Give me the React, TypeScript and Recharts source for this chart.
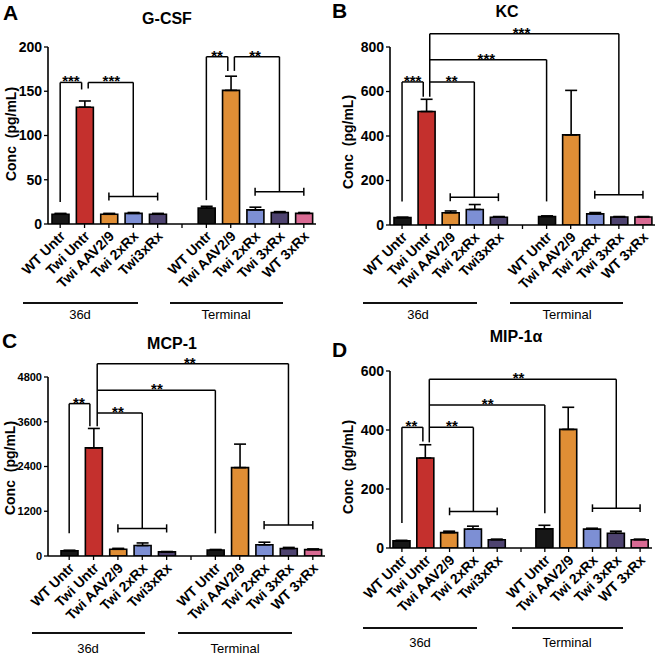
import React from 'react';
import { BarChart, Bar, XAxis, YAxis, Cell, ErrorBar, ReferenceLine, ReferenceDot } from 'recharts';

const FONT = '"Liberation Sans", Arial, Helvetica, sans-serif';

// categories along the x axis, slot 5 is the empty gap between 36d and Terminal
const categories = ['WT Untr', 'Twi Untr', 'Twi AAV2/9', 'Twi 2xRx', 'Twi3xRx', '', 'WT Untr', 'Twi AAV2/9', 'Twi 2xRx', 'Twi 3xRx', 'WT 3xRx'];
const tickSlots = [0.5, 1.5, 2.5, 3.5, 4.5, 5.5, 6.5, 7.5, 8.5, 9.5, 10.5];
const barSlots = [0.5, 1.5, 2.5, 3.5, 4.5, 6.5, 7.5, 8.5, 9.5, 10.5];
const barColors = ['#171717', '#c4302d', '#e08e35', '#7d8fd4', '#4e4370', '#171717', '#e08e35', '#7d8fd4', '#4e4370', '#d96a93'];
const groupLabels = ['36d', 'Terminal'];

// G-CSF
const gcsfValues = [11, 132, 11, 12, 11, 18, 151, 16, 13, 12];
const gcsfErrors = [1, 7, 1, 1, 1, 2, 16, 3, 1, 1];
const gcsfTicks = [0, 50, 100, 150, 200];
const gcsfBrackets = [
  [[0.5, 25], [0.5, 160], [1.38, 160], [1.38, 152]],
  [[1.65, 153], [1.65, 160], [3.5, 160], [3.5, 31]],
  [[6.5, 27], [6.5, 189], [7.38, 189], [7.38, 173]],
  [[7.65, 173], [7.65, 189], [9.5, 189], [9.5, 36.5]],
];
const gcsfSpans = [[2.5, 4.5, 31], [8.5, 10.5, 36.5]];
const gcsfStars: [number, number, string][] = [[0.94, 160, '***'], [2.6, 160, '***'], [6.94, 189, '**'], [8.5, 189, '**']];

// KC
const kcValues = [33, 510, 55, 70, 35, 38, 405, 50, 36, 36];
const kcErrors = [2, 55, 8, 22, 3, 3, 200, 6, 2, 2];
const kcTicks = [0, 200, 400, 600, 800];
const kcBrackets = [
  [[0.5, 106], [0.5, 643], [1.38, 643], [1.38, 576]],
  [[1.65, 576], [1.65, 860]],
  [[1.65, 643], [3.5, 643], [3.5, 125]],
  [[1.65, 743], [6.5, 743], [6.5, 106]],
  [[1.65, 860], [9.5, 860], [9.5, 136]],
];
const kcSpans = [[2.5, 4.5, 125], [8.5, 10.5, 136]];
const kcStars: [number, number, string][] = [[0.94, 643, '***'], [2.56, 643, '**'], [4.0, 743, '***'], [5.46, 860, '***']];

// MCP-1
const mcpValues = [140, 2900, 180, 280, 110, 160, 2370, 300, 200, 170];
const mcpErrors = [15, 520, 25, 70, 10, 15, 630, 70, 30, 20];
const mcpTicks = [0, 1200, 2400, 3600, 4800];
const mcpBrackets = [
  [[0.5, 607], [0.5, 4086], [1.35, 4086], [1.35, 3480]],
  [[1.65, 3480], [1.65, 5157]],
  [[1.65, 3836], [3.5, 3836], [3.5, 740]],
  [[1.65, 4443], [6.5, 4443], [6.5, 607]],
  [[1.65, 5157], [9.5, 5157], [9.5, 830]],
];
const mcpSpans = [[2.5, 4.5, 740], [8.5, 10.5, 830]];
const mcpStars: [number, number, string][] = [[0.9, 4086, '**'], [2.5, 3836, '**'], [4.1, 4443, '**'], [5.45, 5157, '**']];

// MIP-1a
const mipValues = [24, 305, 52, 64, 28, 65, 402, 64, 50, 28];
const mipErrors = [2, 45, 5, 10, 2, 12, 75, 3, 7, 2];
const mipTicks = [0, 200, 400, 600];
const mipBrackets = [
  [[0.5, 85], [0.5, 409], [1.38, 409], [1.38, 361]],
  [[1.65, 358], [1.65, 572]],
  [[1.65, 409], [3.5, 409], [3.5, 124]],
  [[1.65, 485], [6.5, 485], [6.5, 118]],
  [[1.65, 572], [9.5, 572], [9.5, 135]],
];
const mipSpans = [[2.5, 4.5, 124], [8.5, 10.5, 135]];
const mipStars: [number, number, string][] = [[0.9, 409, '**'], [2.6, 409, '**'], [4.1, 485, '**'], [5.4, 572, '**']];

function CategoryTick(props: any) {
  const { x, y, payload } = props;
  const label = categories[Math.floor(payload.value)];
  const tx = x + 6;
  const ty = y + 7;
  return (
    <text x={tx} y={ty} transform={`rotate(-45 ${tx} ${ty})`} textAnchor="end" fontSize={14} fontWeight="bold" fill="#000" fontFamily={FONT}>
      {label}
    </text>
  );
}

type Layout = {
  left: number; top: number; height: number;
  plot: { left: number; top: number; right: number; bottom: number };
  padLeft?: number;
  tickFont: number;
  capHalf: number;
  letterPos: [number, number];
  titlePos: [number, number];
  yLabelPos: [number, number];
  lineY: number;
  lines: [number, number][];
  textY: number;
  textX: number[];
};

type PanelProps = {
  letter: string; title: string;
  values: number[]; errors: number[]; yTicks: number[];
  brackets: number[][][]; spans: number[][]; stars: [number, number, string][];
  layout: Layout;
};

function Panel({ letter, title, values, errors, yTicks, brackets, spans, stars, layout }: PanelProps) {
  const data = barSlots.map((slot, i) => ({ slot, value: values[i], err: [0, errors[i]] }));
  const yAxisW = 40;
  const xAxisH = 70;
  const L = layout;
  const margin = { top: L.plot.top, left: L.plot.left - yAxisW, right: 330 - L.plot.right, bottom: L.height - L.plot.bottom - xAxisH };

  const segs: number[][][] = [];
  brackets.forEach((line) => {
    for (let k = 0; k < line.length - 1; k++) segs.push([line[k], line[k + 1]]);
  });
  spans.forEach(([x1, x2, y]) => {
    segs.push([[x1, y], [x2, y]]);
    segs.push([[x1, y - L.capHalf], [x1, y + L.capHalf]]);
    segs.push([[x2, y - L.capHalf], [x2, y + L.capHalf]]);
  });

  return (
    <div style={{ position: 'absolute', left: L.left, top: L.top, width: 330, height: L.height }}>
      <BarChart width={330} height={L.height} data={data} margin={margin}>
        <XAxis
          dataKey="slot" type="number" domain={[0, 11]} ticks={tickSlots} interval={0} allowDataOverflow
          tick={<CategoryTick />} tickSize={4} height={xAxisH} padding={{ left: L.padLeft ?? 0, right: 0 }}
          axisLine={{ stroke: '#000', strokeWidth: 1.6 }} tickLine={{ stroke: '#000', strokeWidth: 1.3 }}
        />
        <YAxis
          type="number" domain={[0, yTicks[yTicks.length - 1]]} ticks={yTicks} allowDataOverflow width={yAxisW}
          tickSize={4} tickMargin={2}
          tick={{ fill: '#000', fontSize: L.tickFont, fontWeight: 'bold', fontFamily: FONT }}
          axisLine={{ stroke: '#000', strokeWidth: 1.6 }} tickLine={{ stroke: '#000', strokeWidth: 1.3 }}
        />
        <Bar dataKey="value" barSize={17} stroke="#000" strokeWidth={1.6} isAnimationActive={false}>
          {data.map((d, i) => <Cell key={i} fill={barColors[i]} />)}
          <ErrorBar dataKey="err" width={6} stroke="#000" strokeWidth={1.6} direction="y" isAnimationActive={false} />
        </Bar>
        {segs.map((s, i) => (
          <ReferenceLine key={'s' + i} segment={[{ x: s[0][0], y: s[0][1] }, { x: s[1][0], y: s[1][1] }]} stroke="#000" strokeWidth={1.5} ifOverflow="visible" />
        ))}
        {stars.map((s, i) => (
          <ReferenceDot key={'t' + i} x={s[0]} y={s[1]} r={0} ifOverflow="visible"
            shape={(p: any) => (
              <text x={p.cx} y={p.cy + 4} textAnchor="middle" fontSize={15} fontWeight="bold" fill="#000" fontFamily={FONT}>{s[2]}</text>
            )}
          />
        ))}
      </BarChart>

      <div style={{ position: 'absolute', left: L.letterPos[0], top: L.letterPos[1], fontSize: 21, lineHeight: 1, fontWeight: 'bold' }}>{letter}</div>
      <div style={{ position: 'absolute', left: L.titlePos[0], top: L.titlePos[1], transform: 'translate(-50%,-50%)', fontSize: 16, lineHeight: 1, fontWeight: 'bold', whiteSpace: 'nowrap' }}>{title}</div>
      <div style={{ position: 'absolute', left: L.yLabelPos[0], top: L.yLabelPos[1], transform: 'translate(-50%,-50%) rotate(-90deg)', fontSize: 14, lineHeight: 1, fontWeight: 'bold', whiteSpace: 'pre' }}>{'Conc  (pg/mL)'}</div>
      {L.lines.map(([x1, x2], i) => (
        <div key={'l' + i} style={{ position: 'absolute', left: x1, top: L.lineY - 1, width: x2 - x1, height: 2, background: '#111' }} />
      ))}
      {groupLabels.map((g, i) => (
        <div key={'g' + i} style={{ position: 'absolute', left: L.textX[i], top: L.textY, transform: 'translate(-50%,-50%)', fontSize: 13, lineHeight: 1, whiteSpace: 'nowrap' }}>{g}</div>
      ))}
    </div>
  );
}

const layoutA: Layout = {
  left: 0, top: 0, height: 320,
  plot: { left: 48, top: 47, right: 316, bottom: 224 },
  tickFont: 14, capHalf: 4.5,
  letterPos: [3, 2], titlePos: [167, 19], yLabelPos: [11, 134],
  lineY: 303, lines: [[23, 138], [170, 283]], textY: 314, textX: [80, 226],
};
const layoutB: Layout = {
  left: 330, top: 0, height: 320,
  plot: { left: 60, top: 47, right: 325, bottom: 225 },
  tickFont: 14, capHalf: 18,
  letterPos: [2, 0], titlePos: [177, 12], yLabelPos: [18, 142],
  lineY: 303, lines: [[33, 147], [180, 293]], textY: 314, textX: [88, 237],
};
const layoutC: Layout = {
  left: 0, top: 320, height: 336,
  plot: { left: 48, top: 57, right: 325, bottom: 236 }, padLeft: 9,
  tickFont: 11, capHalf: 110,
  letterPos: [2, 10], titlePos: [172, 24], yLabelPos: [10, 148],
  lineY: 313, lines: [[32, 145], [178, 292]], textY: 328, textX: [88, 235],
};
const layoutD: Layout = {
  left: 330, top: 320, height: 336,
  plot: { left: 60, top: 51, right: 322, bottom: 228 },
  tickFont: 14, capHalf: 13,
  letterPos: [2, 19], titlePos: [186, 17], yLabelPos: [18, 147],
  lineY: 308, lines: [[33, 147], [182, 293]], textY: 322, textX: [90, 237],
};

export default function App() {
  return (
    <div style={{ position: 'absolute', left: 0, top: 0, width: 660, height: 656, background: '#fff', fontFamily: FONT, color: '#000', overflow: 'hidden' }}>
      <Panel letter="A" title="G-CSF" values={gcsfValues} errors={gcsfErrors} yTicks={gcsfTicks} brackets={gcsfBrackets} spans={gcsfSpans} stars={gcsfStars} layout={layoutA} />
      <Panel letter="B" title="KC" values={kcValues} errors={kcErrors} yTicks={kcTicks} brackets={kcBrackets} spans={kcSpans} stars={kcStars} layout={layoutB} />
      <Panel letter="C" title="MCP-1" values={mcpValues} errors={mcpErrors} yTicks={mcpTicks} brackets={mcpBrackets} spans={mcpSpans} stars={mcpStars} layout={layoutC} />
      <Panel letter="D" title="MIP-1α" values={mipValues} errors={mipErrors} yTicks={mipTicks} brackets={mipBrackets} spans={mipSpans} stars={mipStars} layout={layoutD} />
    </div>
  );
}
